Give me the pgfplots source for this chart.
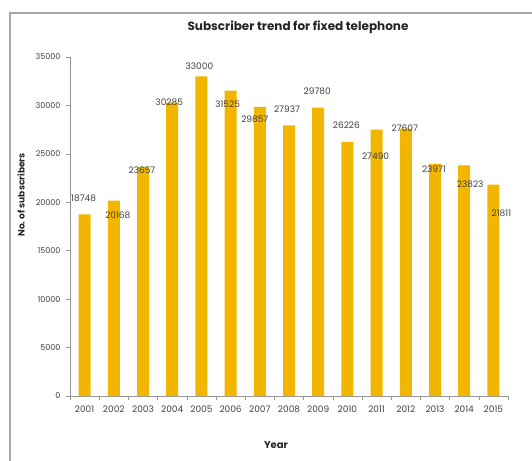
\documentclass[border=0pt]{standalone}
\usepackage{pgfplots}
\usepackage{pgfplotstable}
\pgfplotsset{compat=1.18}
\usepackage{fontspec}
\setmainfont{Poppins}
\definecolor{bargold}{RGB}{242,182,0}
\definecolor{txt}{RGB}{64,64,64}
\definecolor{axgray}{RGB}{150,150,150}
\pgfplotstableread{
x y dx dy
0 18748 -1 16
1 20168 4 -15
2 23657 -1 -3
3 30285 -3 0
4 33000 -2 10
5 31525 -3 -14
6 29857 -5 -12
7 27937 -2 16
8 29780 -1 16
9 26226 -1 17
10 27490 -1 -26
11 27607 -1 0
12 23971 -1 -5
13 23823 6 -19
14 21811 8 -29
}\datatable
\begin{document}
\begin{tikzpicture}[x=1pt,y=1pt]
\useasboundingbox (0,0) rectangle (532,460);
\draw[gray!70, line width=1.3pt] (10,-10) |- (560,447);
\begin{axis}[
  at={(70pt,64pt)}, anchor=south west,
  scale only axis, width=438pt, height=339pt,
  xmin=-0.5, xmax=14.5, ymin=0, ymax=35000,
  axis x line*=bottom, axis y line*=left,
  axis line style={axgray, line width=0.6pt},
  xtick={0,...,14},
  xticklabels={2001,2002,2003,2004,2005,2006,2007,2008,2009,2010,2011,2012,2013,2014,2015},
  minor xtick={-0.5,0.5,...,14.5},
  ytick={0,5000,...,35000},
  scaled y ticks=false,
  /pgf/number format/1000 sep={},
  /pgf/number format/assume math mode=true,
  major tick length=4pt,
  minor tick length=4pt,
  every major x tick/.append style={draw=none},
  tick style={axgray, line width=0.6pt},
  tick align=outside,
  y tick label style={font=\fontsize{8}{9}\selectfont, text=txt, xshift=-2pt},
  x tick label style={font=\fontsize{9}{11}\selectfont, text=txt, yshift=-2pt},
  clip=false,
]
\addplot[ybar, bar width=12pt, fill=bargold, draw=none,
  visualization depends on={\thisrow{dx} \as \dx},
  visualization depends on={\thisrow{dy} \as \dy},
  nodes near coords={\pgfmathprintnumber[fixed,1000 sep={},assume math mode=true]{\pgfplotspointmeta}},
  nodes near coords style={anchor=center, xshift=\dx pt, yshift=\dy pt, font=\fontsize{9}{10}\selectfont, text=txt},
  point meta=explicit] table[x=x, y=y, meta=y] {\datatable};
\end{axis}
\node[font=\bfseries\fontsize{12}{14}\selectfont, text=black!85] at (298,433) {Subscriber trend for fixed telephone};
\node[font=\bfseries\fontsize{9}{10}\selectfont, text=black!85, rotate=90] at (21,265) {No. of subscribers};
\node[font=\bfseries\fontsize{10}{12}\selectfont, text=black!85] at (276,15) {Year};
\end{tikzpicture}
\end{document}
